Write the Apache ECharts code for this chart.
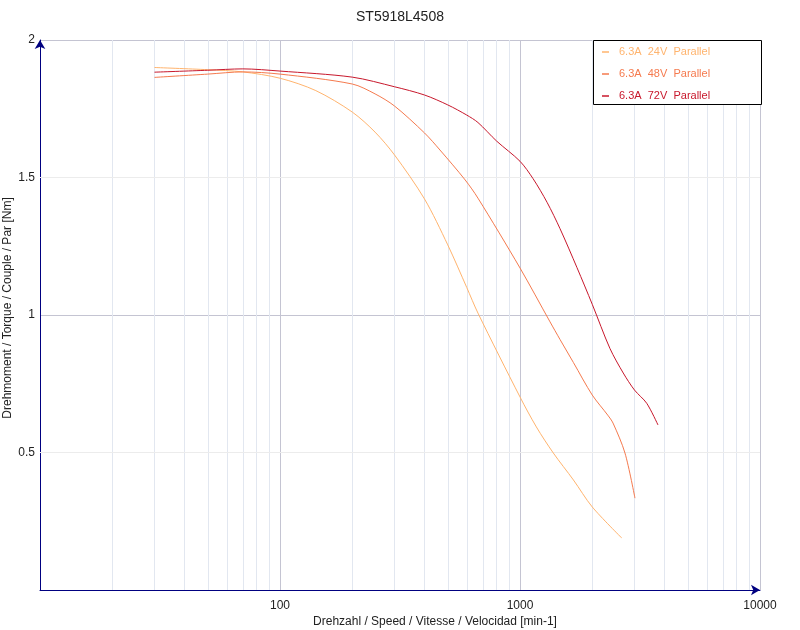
<!DOCTYPE html>
<html>
<head>
<meta charset="utf-8">
<script src="https://cdn.jsdelivr.net/npm/echarts@6/dist/echarts.min.js"></script>
<style>
html,body{margin:0;padding:0;background:#fff;}
#chart{width:800px;height:630px;}
</style>
</head>
<body>
<div id="chart"></div>
<script>
const titleText = 'ST5918L4508';
const seriesNames = ['6.3A  24V  Parallel', '6.3A  48V  Parallel', '6.3A  72V  Parallel'];
const seriesColors = ['#ffb46e', '#f57a4e', '#c8182c'];

// speed [min-1], torque [Nm]
const speed24 = [30, 50, 70, 100, 141, 200, 249, 300, 400, 500, 600, 668, 1000, 1170, 1377, 1670, 2000, 2654];
const torque24 = [1.900, 1.892, 1.884, 1.861, 1.816, 1.738, 1.665, 1.582, 1.422, 1.255, 1.100, 1.007, 0.702, 0.593, 0.498, 0.400, 0.302, 0.189];

const speed48 = [30, 50, 70, 100, 200, 249, 300, 400, 464, 591, 668, 1000, 1334, 1468, 1670, 2000, 2320, 2441, 2738, 3013];
const torque48 = [1.864, 1.876, 1.884, 1.876, 1.840, 1.804, 1.760, 1.662, 1.600, 1.491, 1.425, 1.171, 0.975, 0.911, 0.827, 0.709, 0.636, 0.607, 0.498, 0.334];

const speed72 = [30, 50, 70, 100, 200, 300, 400, 500, 600, 668, 800, 1000, 1133, 1296, 1468, 1728, 2000, 2371, 2693, 3000, 3373, 3758];
const torque72 = [1.883, 1.890, 1.895, 1.887, 1.865, 1.830, 1.800, 1.764, 1.727, 1.700, 1.632, 1.559, 1.496, 1.410, 1.314, 1.172, 1.039, 0.878, 0.789, 0.727, 0.679, 0.600];

const xMinorTicks = [20, 30, 40, 50, 60, 70, 80, 90, 200, 300, 400, 500, 600, 700, 800, 900, 2000, 3000, 4000, 5000, 6000, 7000, 8000, 9000];
const yMinorTicks = [0.5, 1.5];

const xAxisName = 'Drehzahl / Speed / Vitesse / Velocidad [min-1]';
const yAxisName = 'Drehmoment / Torque / Couple / Par [Nm]';

function pairs(xs, ys) { return xs.map((x, i) => [x, ys[i]]); }

const chart = echarts.init(document.getElementById('chart'), null, {renderer: 'canvas'});
const FONT = '"Liberation Sans", Arial, sans-serif';

const markData = xMinorTicks.map(v => ({xAxis: v, lineStyle: {color: '#e2e7f0'}}))
  .concat(yMinorTicks.map(v => ({yAxis: v, lineStyle: {color: '#ececec'}})));

const dataSeries = [pairs(speed24, torque24), pairs(speed48, torque48), pairs(speed72, torque72)].map((d, i) => ({
  name: seriesNames[i],
  type: 'line',
  data: d,
  smooth: 0.3,
  showSymbol: false,
  symbol: 'none',
  z: 5,
  lineStyle: {color: seriesColors[i], width: 1},
  itemStyle: {color: seriesColors[i]},
  emphasis: {disabled: true}
}));

chart.setOption({
  animation: false,
  backgroundColor: '#fff',
  title: {
    text: titleText,
    left: 'center',
    top: 5,
    textStyle: {fontFamily: FONT, fontSize: 14, fontWeight: 'normal', color: '#222'}
  },
  grid: {left: 40, right: 40, top: 40, bottom: 40, containLabel: false, outerBoundsMode: 'none'},
  graphic: [{
    type: 'rect',
    left: 593, top: 40,
    shape: {width: 168, height: 64},
    style: {fill: '#fff', stroke: '#000', lineWidth: 1},
    z: 50
  }],
  legend: {
    orient: 'vertical',
    left: 602,
    top: 46,
    z: 100,
    icon: 'rect',
    itemWidth: 7,
    itemHeight: 1.5,
    itemGap: 10,
    padding: 0,
    textStyle: {fontFamily: FONT, fontSize: 11, lineHeight: 12, padding: [0, 0, 0, 5]},
    data: seriesNames.map((n, i) => ({name: n, textStyle: {color: seriesColors[i]}}))
  },
  xAxis: {
    type: 'log',
    logBase: 10,
    min: 10,
    max: 10000,
    name: xAxisName,
    nameLocation: 'middle',
    nameGap: 26,
    nameMoveOverlap: false,
    nameTextStyle: {fontFamily: FONT, fontSize: 12, color: '#222', padding: [0, 0, 0, 70]},
    axisLine: {show: true, lineStyle: {color: '#000080', width: 1}, symbol: ['none', 'arrow'], symbolSize: [8, 9]},
    axisTick: {show: false},
    axisLabel: {
      fontFamily: FONT, fontSize: 12, color: '#222', margin: 10,
      formatter: v => (v === 10 ? '' : String(v))
    },
    splitLine: {show: true, lineStyle: {color: '#c4c4d2', width: 1}}
  },
  yAxis: {
    type: 'value',
    min: 0,
    max: 2,
    interval: 0.5,
    name: yAxisName,
    nameLocation: 'middle',
    nameGap: 26,
    nameMoveOverlap: false,
    nameTextStyle: {fontFamily: FONT, fontSize: 12, color: '#222', padding: [0, 0, 0, 14]},
    axisLine: {show: true, lineStyle: {color: '#000080', width: 1}, symbol: ['none', 'arrow'], symbolSize: [8, 9]},
    axisTick: {show: false},
    axisLabel: {
      fontFamily: FONT, fontSize: 12, color: '#222', margin: 5,
      formatter: v => (v === 0 ? '' : String(v))
    },
    splitLine: {show: true, interval: 1, lineStyle: {color: '#c4c4d2', width: 1}}
  },
  series: [{
    name: 'grid',
    type: 'line',
    data: [],
    z: 1,
    silent: true,
    markLine: {
      silent: true,
      symbol: 'none',
      animation: false,
      label: {show: false},
      emphasis: {disabled: true},
      lineStyle: {type: 'solid', width: 1},
      data: markData
    }
  }].concat(dataSeries)
});
</script>
</body>
</html>
